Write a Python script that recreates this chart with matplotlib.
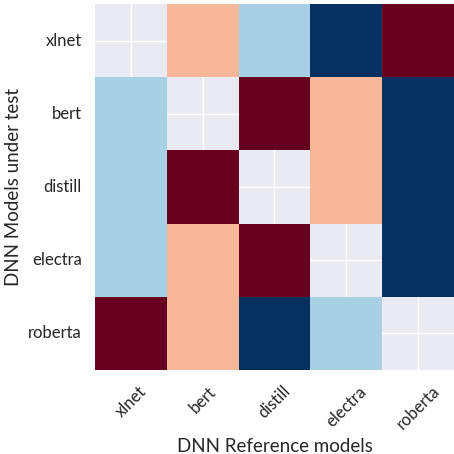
import numpy as np
import matplotlib
matplotlib.use("Agg")
import matplotlib.pyplot as plt
import seaborn as sns

# rank of each reference model for each model under test (1 = closest)
models = ["xlnet", "bert", "distill", "electra", "roberta"]
xlnet_row = [np.nan, 2, 3, 4, 1]
bert_row = [3, np.nan, 1, 2, 4]
distill_row = [3, 1, np.nan, 2, 4]
electra_row = [3, 2, 1, np.nan, 4]
roberta_row = [1, 2, 4, 3, np.nan]

sns.set_theme(style="darkgrid")
plt.rcParams['font.family'] = ['Lato', 'DejaVu Sans']

data = np.array([xlnet_row, bert_row, distill_row, electra_row, roberta_row])

fig = plt.figure(figsize=(4.54, 4.54), dpi=100)
ax = fig.add_axes([0.209, 0.185, 0.791, 0.806])
sns.heatmap(data, ax=ax, cmap="RdBu", vmin=1, vmax=4, cbar=False,
            mask=np.isnan(data), xticklabels=models, yticklabels=models)

ax.set_xlabel("DNN Reference models", fontsize=13.5)
ax.set_ylabel("DNN Models under test", fontsize=13.5)
plt.xticks(rotation=45, fontsize=12)
plt.yticks(rotation=0, fontsize=12)

fig.savefig("out.png", dpi=100)
